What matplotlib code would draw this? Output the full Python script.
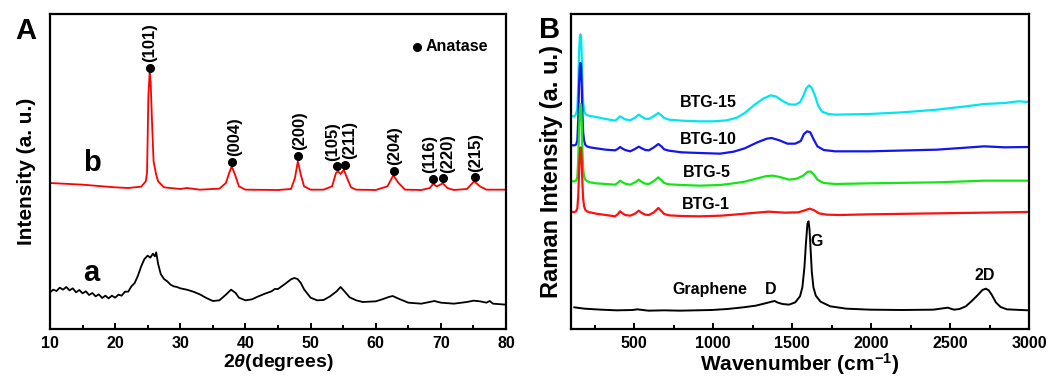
import matplotlib
matplotlib.use('Agg')
import matplotlib.pyplot as plt
from matplotlib.ticker import MultipleLocator

plt.rcParams['font.family'] = ['Liberation Sans', 'DejaVu Sans']
plt.rcParams['font.weight'] = 'bold'
plt.rcParams['mathtext.fontset'] = 'custom'
plt.rcParams['mathtext.rm'] = 'Liberation Sans:bold'
plt.rcParams['mathtext.bf'] = 'Liberation Sans:bold'
plt.rcParams['mathtext.it'] = 'Liberation Sans:italic'

# ---------------- Panel A : XRD ----------------
xrd_b = [(10, 438), (15, 433), (20, 425), (22, 423), (24, 427), (24.7, 443), (24.9, 470),
         (25.1, 700), (25.3, 768), (25.45, 740), (25.7, 600), (25.9, 503), (26.3, 463),
         (26.6, 443), (27.5, 425), (30, 420), (31, 423), (33, 418), (36, 421), (37, 438),
         (37.5, 468), (37.9, 488), (38.4, 463), (39, 428), (40, 418), (45, 417), (47, 420),
         (47.6, 453), (48.05, 503), (48.5, 463), (49, 428), (50, 418), (52, 418), (53.3, 428),
         (53.9, 468), (54.2, 473), (54.6, 465), (55.1, 478), (55.6, 453), (56.2, 425),
         (57, 418), (60, 417), (61.8, 428), (62.7, 461), (63.5, 438), (64.5, 418), (67, 417),
         (68.3, 423), (68.8, 435), (69.4, 428), (70.3, 437), (71, 423), (72, 417), (74, 420),
         (75.1, 443), (76, 428), (77, 418), (80, 418)]

xrd_a = [(10.0, 110), (10.5, 118), (11.0, 114), (11.5, 124), (12.0, 118), (12.5, 126),
         (13.0, 116), (13.5, 122), (14.0, 110), (14.5, 117), (15.0, 107), (15.5, 113),
         (16.0, 102), (16.5, 108), (17.0, 98), (17.5, 104), (18.0, 93), (18.5, 100),
         (19.0, 92), (19.5, 100), (20.0, 94), (20.5, 103), (21.0, 100), (21.5, 112),
         (22.0, 112), (22.5, 128), (23.0, 138), (23.5, 160), (24.0, 188), (24.5, 210),
         (25.0, 220), (25.4, 214), (25.8, 226), (26.1, 218), (26.3, 230), (26.6, 195),
         (27.0, 165), (27.5, 150), (28.0, 143), (28.5, 133), (29.0, 128), (29.5, 126),
         (30.0, 122), (31.0, 118), (32.0, 112), (33.0, 104), (34.0, 93), (35.0, 84),
         (36.0, 86), (37.0, 103), (37.8, 118), (38.5, 108), (39.0, 94), (40.0, 86),
         (41.0, 89), (42.0, 98), (43.0, 106), (44.0, 113), (44.5, 120), (45.0, 120),
         (46.0, 134), (47.0, 149), (47.5, 153), (48.0, 150), (48.5, 138), (49.0, 119),
         (50.0, 94), (51.0, 86), (52.0, 87), (53.0, 98), (54.0, 113), (54.6, 126),
         (55.3, 111), (56.0, 95), (57.0, 86), (58.0, 81), (60.0, 83), (61.0, 89),
         (62.0, 96), (62.6, 99), (63.5, 91), (65.0, 79), (67.0, 76), (69.0, 84),
         (70.0, 79), (72.0, 76), (74.0, 81), (75.0, 85), (76.0, 83), (77.0, 79),
         (77.5, 84), (78.0, 76), (80.0, 73)]

peak_labels = ['(101)', '(004)', '(200)', '(105)', '(211)', '(204)', '(116)', '(220)', '(215)']
peak_x = [25.3, 37.9, 48.1, 54.0, 55.3, 62.8, 68.8, 70.3, 75.2]
peak_y = [783, 501, 520, 488, 493, 475, 450, 452, 455]
peak_label_x = [25.3, 38.3, 48.3, 53.4, 56.0, 62.9, 68.3, 71.0, 75.3]

# ---------------- Panel B : Raman ----------------
graphene = [(121, 65), (185, 61), (290, 58), (390, 56), (490, 57), (520, 59), (590, 55),
            (690, 56), (790, 55), (890, 56), (990, 57), (1090, 60), (1190, 65), (1270, 70),
            (1330, 77), (1370, 82), (1390, 84), (1410, 79), (1440, 75), (1480, 73),
            (1520, 80), (1550, 98), (1565, 125), (1578, 185), (1588, 260), (1597, 315),
            (1604, 323), (1610, 300), (1617, 240), (1625, 170), (1635, 125), (1650, 100),
            (1680, 82), (1742, 68), (1843, 61), (1995, 58), (2195, 57), (2395, 58),
            (2455, 62), (2485, 64), (2525, 58), (2560, 60), (2600, 68), (2640, 85),
            (2680, 104), (2705, 117), (2727, 121), (2745, 116), (2765, 102), (2790, 80),
            (2820, 66), (2860, 59), (2950, 57), (3000, 56)]

btg1 = [(104, 351), (121, 351), (132, 353), (140, 362), (146, 400), (151, 470), (156, 525),
        (160, 545), (164, 540), (168, 500), (172, 440), (177, 390), (183, 368), (190, 358),
        (200, 353), (220, 350), (260, 346), (320, 342), (379, 338), (395, 344), (411, 353),
        (427, 347), (443, 342), (475, 340), (505, 346), (529, 355), (548, 348), (570, 343),
        (593, 342), (625, 350), (653, 363), (672, 354), (690, 345), (720, 341), (800, 339),
        (915, 338), (1050, 340), (1130, 343), (1250, 348), (1350, 352), (1450, 349),
        (1540, 350), (1580, 356), (1612, 361), (1640, 356), (1670, 347), (1720, 343),
        (1800, 342), (1988, 344), (2417, 347), (3000, 351)]

btg5 = [(104, 443), (121, 443), (132, 445), (140, 455), (146, 510), (151, 600), (156, 660),
        (160, 675), (164, 668), (168, 620), (172, 540), (177, 480), (183, 458), (190, 448),
        (200, 444), (220, 440), (260, 437), (320, 435), (379, 433), (395, 438), (411, 445),
        (427, 440), (443, 436), (475, 433), (505, 440), (529, 448), (548, 441), (570, 436),
        (593, 435), (625, 444), (653, 455), (672, 447), (690, 438), (720, 434), (800, 432),
        (915, 430), (1044, 432), (1130, 437), (1200, 442), (1280, 452), (1340, 459),
        (1380, 460), (1430, 455), (1480, 448), (1530, 451), (1570, 460), (1600, 472),
        (1620, 472), (1640, 462), (1660, 448), (1700, 438), (1773, 435), (1988, 437),
        (2417, 440), (2717, 445), (3000, 445)]

btg10 = [(104, 551), (121, 551), (132, 553), (140, 565), (146, 630), (151, 730), (156, 785),
         (160, 798), (164, 790), (168, 730), (172, 650), (177, 590), (183, 565), (190, 553),
         (200, 548), (220, 545), (260, 542), (320, 538), (379, 536), (395, 540), (411, 546),
         (427, 541), (443, 537), (475, 533), (505, 540), (529, 547), (548, 542), (570, 537),
         (593, 536), (625, 545), (653, 555), (672, 548), (690, 539), (720, 535), (800, 530),
         (915, 528), (1044, 526), (1130, 532), (1200, 542), (1280, 560), (1340, 571),
         (1370, 573), (1420, 566), (1470, 556), (1520, 556), (1555, 564), (1575, 585),
         (1595, 593), (1615, 590), (1635, 570), (1660, 548), (1700, 537), (1773, 533),
         (1988, 533), (2417, 538), (2600, 544), (2717, 548), (2846, 545), (3000, 546)]

btg15 = [(104, 638), (121, 638), (132, 645), (140, 660), (146, 730), (151, 830), (156, 875),
         (160, 884), (164, 876), (168, 820), (172, 740), (177, 680), (183, 655), (190, 646),
         (200, 642), (220, 639), (260, 636), (320, 630), (379, 625), (395, 631), (411, 638),
         (427, 633), (443, 629), (475, 626), (505, 634), (529, 643), (548, 637), (570, 631),
         (593, 630), (625, 639), (653, 648), (672, 641), (690, 633), (720, 628), (800, 625),
         (915, 623), (1000, 623), (1087, 626), (1150, 634), (1200, 648), (1260, 672),
         (1320, 692), (1366, 701), (1400, 697), (1440, 684), (1480, 674), (1520, 673),
         (1550, 680), (1570, 698), (1590, 722), (1608, 731), (1625, 723), (1645, 700),
         (1665, 670), (1690, 652), (1730, 645), (1773, 643), (1988, 645), (2200, 650),
         (2417, 658), (2600, 668), (2717, 675), (2846, 678), (2931, 683), (3000, 681)]

raman_series = [('BTG-15', btg15, '#00e6f0'), ('BTG-10', btg10, '#1414f0'),
                ('BTG-5', btg5, '#14e614'), ('BTG-1', btg1, '#ff1010')]
raman_label_pos = {'BTG-15': (969, 678), 'BTG-10': (969, 568), 'BTG-5': (962, 468),
                   'BTG-1': (952, 373)}
graphene_marks = [('Graphene', 979, 118), ('D', 1366, 118), ('G', 1655, 261), ('2D', 2717, 161)]

# ---------------- Figure ----------------
W, H = 1062, 378
fig = plt.figure(figsize=(W / 100, H / 100), dpi=100)
axA = fig.add_axes([50 / W, 1 - 329 / H, 456 / W, 315 / H])
axB = fig.add_axes([571 / W, 1 - 329 / H, 458 / W, 315 / H])

for ax in (axA, axB):
    ax.set_ylim(0, 945)
    ax.set_yticks([])
    for s in ax.spines.values():
        s.set_linewidth(1.6)
    ax.tick_params(axis='x', which='both', direction='in', top=False, labelsize=11.5, pad=5, width=1.4)
    ax.tick_params(axis='x', which='major', length=4.5)
    ax.tick_params(axis='x', which='minor', length=3)

# Panel A
xa, ya = zip(*xrd_a)
xb, yb = zip(*xrd_b)
axA.plot(xa, ya, color='black', lw=1.3)
axA.plot(xb, yb, color='red', lw=1.3)
axA.plot(peak_x, peak_y, 'o', color='black', ms=5.5)
for lab, lx, py in zip(peak_labels, peak_label_x, peak_y):
    axA.annotate(lab, xy=(lx, py), xytext=(0, 4), textcoords='offset points', rotation=90,
                 ha='center', va='bottom', fontsize=12, fontweight='bold')
axA.plot([66.3], [846], 'o', color='black', ms=5.5)
axA.text(67.6, 846, 'Anatase', ha='left', va='center', fontsize=11.5, fontweight='bold')
axA.text(15.07, 474, 'b', ha='left', va='baseline', fontsize=21, fontweight='bold')
axA.text(15.07, 144, 'a', ha='left', va='baseline', fontsize=21, fontweight='bold')
axA.set_xlim(10, 80)
axA.xaxis.set_major_locator(MultipleLocator(10))
axA.xaxis.set_minor_locator(MultipleLocator(5))
axA.set_xlabel(r'2$\mathit{\theta}$(degrees)', fontsize=14, fontweight='bold', labelpad=1)
axA.set_ylabel('Intensity (a. u.)', fontsize=15, fontweight='bold', labelpad=10)

# Panel B
gx, gy = zip(*graphene)
axB.plot(gx, gy, color='black', lw=1.4)
for name, data, col in raman_series:
    x, y = zip(*data)
    axB.plot(x, y, color=col, lw=1.6)
for name, data, col in raman_series:
    px, py = raman_label_pos[name]
    axB.text(px, py, name, ha='center', va='center', fontsize=11.5, fontweight='bold')
for name, px, py in graphene_marks:
    axB.text(px, py, name, ha='center', va='center', fontsize=11.5, fontweight='bold')
axB.set_xlim(100, 3000)
axB.xaxis.set_major_locator(MultipleLocator(500))
axB.xaxis.set_minor_locator(MultipleLocator(250))
axB.set_xlabel(r'Wavenumber (cm$^{-1}$)', fontsize=15, fontweight='bold', labelpad=0)
axB.set_ylabel('Raman Intensity (a. u.)', fontsize=17, fontweight='bold', labelpad=6)

for ax in (axA, axB):
    for lab in ax.get_xticklabels():
        lab.set_fontweight('bold')

fig.text(15 / W, 1 - 39 / H, 'A', ha='left', va='baseline', fontsize=21, fontweight='bold')
fig.text(539 / W, 1 - 38 / H, 'B', ha='left', va='baseline', fontsize=21, fontweight='bold')

fig.savefig('out.png', dpi=100)
